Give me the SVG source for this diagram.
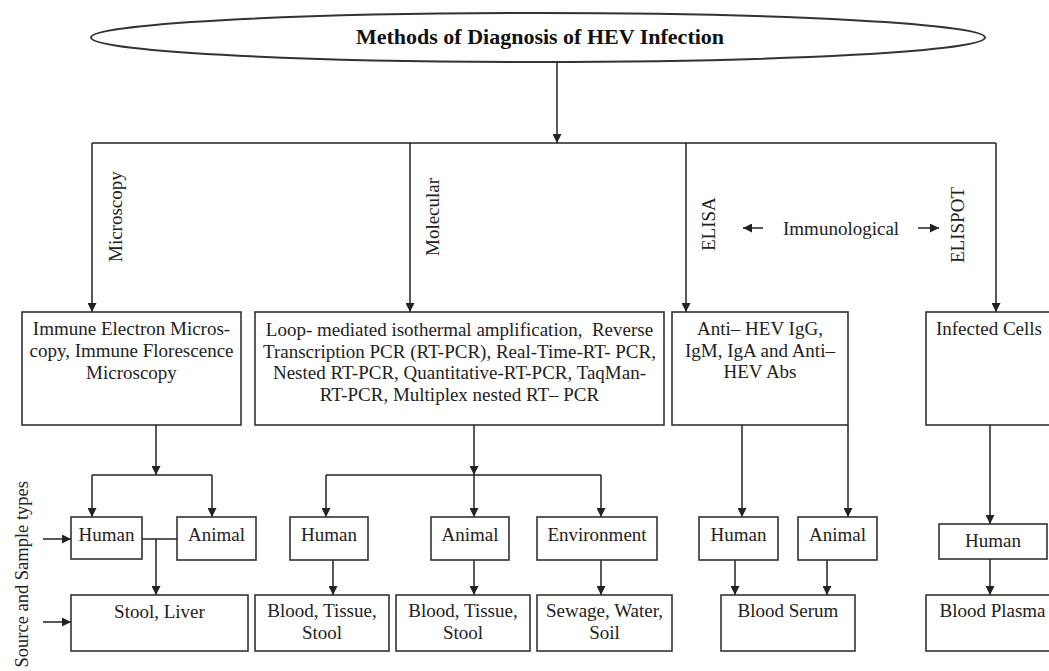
<svg xmlns="http://www.w3.org/2000/svg" width="1049" height="671" viewBox="0 0 1049 671">
<defs>
<marker id="ah" viewBox="0 0 10 10" refX="10" refY="5" markerWidth="9" markerHeight="9" markerUnits="userSpaceOnUse" orient="auto">
<path d="M0,0 L10,5 L0,10 z" fill="#222"/>
</marker>
<style>
.box{fill:#fff;stroke:#333;stroke-width:1.6}
.ln{fill:none;stroke:#222;stroke-width:1.5}
.ar{fill:none;stroke:#222;stroke-width:1.5;marker-end:url(#ah)}
.t{font-family:"Liberation Serif","Times New Roman",serif;font-size:19px;fill:#222;text-anchor:middle}
.ts{font-family:"Liberation Serif","Times New Roman",serif;font-size:19px;fill:#222}
.title{font-family:"Liberation Serif","Times New Roman",serif;font-size:22px;font-weight:bold;fill:#111;text-anchor:middle}
</style>
</defs>
<rect width="1049" height="671" fill="#fff"/>

<g id="connectors">
<line class="ar" x1="557" y1="62" x2="557" y2="143"/>
<polyline class="ln" points="92,143 996,143"/>
<line class="ar" x1="92" y1="143" x2="92" y2="312"/>
<line class="ar" x1="410" y1="143" x2="410" y2="312"/>
<line class="ar" x1="686" y1="143" x2="686" y2="312"/>
<line class="ar" x1="996" y1="143" x2="996" y2="312"/>
<line class="ar" x1="763" y1="228" x2="743" y2="228"/>
<line class="ar" x1="918" y1="228" x2="939" y2="228"/>
<line class="ar" x1="156" y1="425" x2="156" y2="475"/>
<polyline class="ln" points="92,475 212,475"/>
<line class="ar" x1="92" y1="475" x2="92" y2="517"/>
<line class="ar" x1="212" y1="475" x2="212" y2="517"/>
<line class="ln" x1="142" y1="539" x2="177" y2="539"/>
<line class="ar" x1="156" y1="539" x2="156" y2="595"/>
<line class="ar" x1="43" y1="539" x2="71" y2="539"/>
<line class="ar" x1="43" y1="622" x2="71" y2="622"/>
<line class="ar" x1="474" y1="425" x2="474" y2="475"/>
<polyline class="ln" points="326,475 601,475"/>
<line class="ar" x1="326" y1="475" x2="326" y2="517"/>
<line class="ar" x1="474" y1="475" x2="474" y2="517"/>
<line class="ar" x1="601" y1="475" x2="601" y2="517"/>
<line class="ar" x1="333" y1="560" x2="333" y2="595"/>
<line class="ar" x1="474" y1="560" x2="474" y2="595"/>
<line class="ar" x1="601" y1="560" x2="601" y2="595"/>
<line class="ar" x1="742" y1="425" x2="742" y2="517"/>
<line class="ar" x1="848" y1="425" x2="848" y2="517"/>
<line class="ar" x1="735" y1="560" x2="735" y2="595"/>
<line class="ar" x1="827" y1="560" x2="827" y2="595"/>
<line class="ar" x1="990" y1="425" x2="990" y2="524"/>
<line class="ar" x1="990" y1="559" x2="990" y2="595"/>
</g>

<g id="title">
<ellipse cx="538" cy="37.5" rx="447" ry="24.5" fill="#fff" stroke="#333" stroke-width="2"/>
<text class="title" x="540" y="44">Methods of Diagnosis of HEV Infection</text>
</g>

<g id="labels">
<text class="ts" transform="translate(122,262) rotate(-90)">Microscopy</text>
<text class="ts" transform="translate(439,256) rotate(-90)">Molecular</text>
<text class="ts" transform="translate(715,251) rotate(-90)">ELISA</text>
<text class="ts" transform="translate(964,263) rotate(-90)">ELISPOT</text>
<text class="ts" x="783" y="235">Immunological</text>
<text class="ts" style="font-size:18.5px" transform="translate(28,481) rotate(-90)" text-anchor="end">Source and Sample types</text>
</g>

<g id="microscopy-box">
<rect class="box" x="22" y="312" width="219" height="113"/>
<text class="t" x="131.5" y="335">Immune Electron Micros-</text>
<text class="t" x="131.5" y="357">copy, Immune Florescence</text>
<text class="t" x="131.5" y="379">Microscopy</text>
</g>

<g id="molecular-box">
<rect class="box" x="255" y="312" width="409" height="113"/>
<text class="t" x="459.5" y="336" xml:space="preserve">Loop- mediated isothermal amplification,  Reverse</text>
<text class="t" x="459.5" y="357.5">Transcription PCR (RT-PCR), Real-Time-RT- PCR,</text>
<text class="t" x="459.5" y="379">Nested RT-PCR, Quantitative-RT-PCR, TaqMan-</text>
<text class="t" x="459.5" y="400.5">RT-PCR, Multiplex nested RT– PCR</text>
</g>

<g id="antibody-box">
<rect class="box" x="672" y="312" width="176" height="113"/>
<text class="t" x="760" y="335">Anti– HEV IgG,</text>
<text class="t" x="760" y="357">IgM, IgA and Anti–</text>
<text class="t" x="760" y="378">HEV Abs</text>
</g>

<g id="infected-box">
<rect class="box" x="926" y="312" width="126" height="113"/>
<text class="t" x="989" y="335">Infected Cells</text>
</g>

<g id="mic-human"><rect class="box" x="71" y="517" width="71" height="42"/><text class="t" x="106.5" y="541">Human</text></g>
<g id="mic-animal"><rect class="box" x="177" y="517" width="79" height="43"/><text class="t" x="216.5" y="541">Animal</text></g>
<g id="mic-sample"><rect class="box" x="71" y="595" width="177" height="56"/><text class="t" x="159.5" y="618">Stool, Liver</text></g>

<g id="mol-human"><rect class="box" x="290" y="517" width="78" height="43"/><text class="t" x="329" y="541">Human</text></g>
<g id="mol-animal"><rect class="box" x="431" y="517" width="78" height="43"/><text class="t" x="470" y="541">Animal</text></g>
<g id="mol-env"><rect class="box" x="537" y="517" width="120" height="43"/><text class="t" x="597" y="541">Environment</text></g>
<g id="mol-human-sample"><rect class="box" x="255" y="595" width="134" height="56"/><text class="t" x="322" y="617">Blood, Tissue,</text><text class="t" x="322" y="638.5">Stool</text></g>
<g id="mol-animal-sample"><rect class="box" x="396" y="595" width="134" height="56"/><text class="t" x="463" y="617">Blood, Tissue,</text><text class="t" x="463" y="638.5">Stool</text></g>
<g id="mol-env-sample"><rect class="box" x="537" y="595" width="135" height="56"/><text class="t" x="604.5" y="617">Sewage, Water,</text><text class="t" x="604.5" y="638.5">Soil</text></g>

<g id="elisa-human"><rect class="box" x="699" y="517" width="79" height="43"/><text class="t" x="738.5" y="541">Human</text></g>
<g id="elisa-animal"><rect class="box" x="798" y="517" width="79" height="43"/><text class="t" x="837.5" y="541">Animal</text></g>
<g id="elisa-sample"><rect class="box" x="721" y="595" width="134" height="56"/><text class="t" x="788" y="617">Blood Serum</text></g>

<g id="elispot-human"><rect class="box" x="939" y="524" width="108" height="35"/><text class="t" x="993" y="547">Human</text></g>
<g id="elispot-sample"><rect class="box" x="926" y="595" width="126" height="56"/><text class="t" x="992.5" y="617">Blood Plasma</text></g>
</svg>
